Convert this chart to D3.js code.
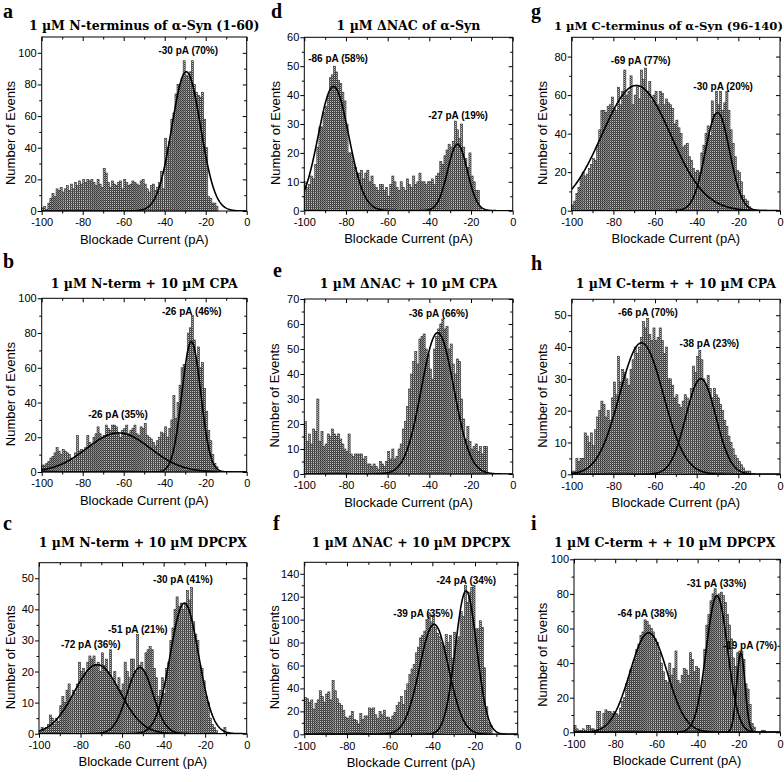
<!DOCTYPE html>
<html><head><meta charset="utf-8">
<script src="https://cdn.jsdelivr.net/npm/d3@7"></script>
<style>body{margin:0;background:#fff}</style>
</head><body>
<svg id="chart" width="784" height="782"></svg>
<script>
// ---------- DATA ----------
const binStart = -100;   // first bin left edge (pA)
const binWidth = 1;      // pA per bin
const xTickValues = [-100, -80, -60, -40, -20, 0];

const panelIds = ["a","b","c","d","e","f","g","h","i"];
const titles = {
  a: "1 µM N-terminus of α-Syn (1-60)",
  b: "1 µM N-term + 10 µM CPA",
  c: "1 µM N-term + 10 µM DPCPX",
  d: "1 µM ΔNAC of α-Syn",
  e: "1 µM ΔNAC + 10 µM CPA",
  f: "1 µM ΔNAC + 10 µM DPCPX",
  g: "1 µM C-terminus of α-Syn (96-140)",
  h: "1 µM C-term + + 10 µM CPA",
  i: "1 µM C-term + + 10 µM DPCPX"
};
const yMaxes = {a:110, b:100, c:55, d:60, e:70, f:150, g:90, h:55, i:100};
const ySteps = {a:20, b:20, c:10, d:10, e:10, f:20, g:20, h:10, i:20};

const countsA = [2,3,1,5,8,11,9,14,13,15, 12,14,16,13,17,14,18,16,19,17, 20,18,20,19,20,18,16,20,17,15,
  27,24,18,15,19,17,16,18,19,14, 20,18,16,17,19,18,17,16,19,20, 17,14,12,16,17,13,15,18,25,14,
  46,40,44,58,62,74,80,80,84,95, 86,85,88,95,80,75,73,72,75,58, 40,9,8,5,5,3];
const countsB = [4,4,5,6,8,9,11,14,12,10, 13,12,11,10,8,7,11,21,12,13, 12,14,21,17,15,20,22,26,22,20,
  21,27,25,24,27,27,26,22,20,24, 25,27,22,24,25,27,22,21,26,25, 28,21,20,19,17,15,18,20,23,22,
  26,20,25,30,44,31,40,50,60,62, 62,80,83,90,76,64,72,60,63,48, 35,24,18,10,5,3];
const countsC = [1,2,1,2,3,6,5,3,5,4, 9,12,10,14,16,11,14,13,16,23, 20,21,19,23,25,24,25,22,23,20,
  26,22,24,20,27,17,20,15,18,14, 16,23,20,18,24,24,20,32,22,23, 20,26,27,28,27,21,18,12,14,18,
  13,21,23,30,34,40,44,41,42,40, 42,46,43,47,36,32,30,22,21,17, 12,10,5,3,2,1,0,0,0,2];
const countsD = [10,8,9,12,11,16,22,29,29,34, 36,40,46,47,50,48,45,44,41,38, 30,20,20,17,15,13,13,14,11,13,
  14,10,12,9,8,7,9,9,7,8, 5,9,12,10,8,7,10,8,7,11, 9,8,12,9,10,13,10,10,9,10,
  10,11,9,12,13,17,16,19,21,23, 22,24,31,28,25,30,22,18,15,20, 12,10,7,7,1];
const countsE = [21,13,16,12,18,17,30,13,17,11, 12,16,15,18,16,15,16,14,12,10, 9,16,8,7,8,8,8,8,6,7,
  4,4,3,4,3,2,5,4,3,5, 9,6,10,6,7,10,12,18,21,27, 34,40,45,49,44,54,55,56,50,48,
  42,38,50,55,58,60,62,58,59,50, 52,44,40,46,45,30,22,14,19,13, 10,11,12,9,11,8,11,11];
const countsF = [32,31,28,30,22,27,30,38,33,28, 35,37,30,47,38,31,27,25,21,15, 14,16,20,13,12,9,18,13,16,16,
  23,22,23,17,14,20,17,21,15,15, 13,16,19,25,28,33,26,38,44,52, 57,61,71,76,84,86,90,100,106,98,
  104,93,88,85,80,77,87,80,86,66, 89,82,85,107,103,130,115,124,128,130, 92,92,99,93,58,24,10,8];
const countsG = [3,5,9,12,17,20,18,19,22,24, 27,26,34,42,52,52,51,54,55,59, 53,52,64,55,62,73,60,62,70,55,
  60,65,58,73,68,74,62,67,57,60, 62,55,62,61,55,58,56,55,53,45, 47,43,40,33,34,35,28,26,22,20,
  21,20,30,34,40,44,39,57,50,62, 55,62,52,56,62,52,42,35,28,21, 20,15,8,6,5,2];
const countsH = [1,1,5,4,5,5,13,12,10,13, 9,14,18,20,23,22,18,20,17,24, 29,25,37,29,33,32,30,28,33,36,
  40,38,40,43,48,46,49,44,42,46, 42,43,46,42,38,40,30,30,28,24, 25,22,21,23,25,24,22,27,34,32,
  37,39,36,30,28,31,27,24,27,25, 24,22,20,17,15,12,10,8,6,5, 4,3,2,1,1,1];
const countsI = [4,2,1,1,2,1,4,4,2,2, 1,12,12,3,11,13,12,12,11,12, 11,10,14,18,20,28,31,36,38,42,
  48,51,56,58,65,64,62,60,58,54, 52,46,40,35,30,29,40,33,37,47, 30,28,33,37,36,33,46,42,35,38,
  37,25,30,48,62,68,76,80,83,78, 80,81,79,75,68,62,54,43,38,46, 47,47,42,28,25,16,5,3,0,0, 0,1,1];

// Gaussian fit parameters (centre, width, height)
const fitsA = [{mu:-29.5, sigma:7, amp:88}];
const fitsB = [{mu:-62.5, sigma:15.5, amp:22.5}, {mu:-27, sigma:4.6, amp:75}];
const fitsC = [{mu:-72, sigma:11, amp:22.2}, {mu:-51.4, sigma:6.2, amp:21.3}, {mu:-30, sigma:6.8, amp:42}];
const fitsD = [{mu:-86, sigma:7.3, amp:43}, {mu:-26.5, sigma:4.7, amp:23}];
const fitsE = [{mu:-36, sigma:7.8, amp:56.5}];
const fitsF = [{mu:-39.2, sigma:6.8, amp:96}, {mu:-24.2, sigma:5, amp:125}];
const fitsG = [{mu:-69, sigma:16.5, amp:65}, {mu:-30, sigma:5.8, amp:51}];
const fitsH = [{mu:-66.5, sigma:10.5, amp:41.3}, {mu:-38, sigma:7.2, amp:30}];
const fitsI = [{mu:-63.8, sigma:9, amp:57.5}, {mu:-30.6, sigma:5.2, amp:79}, {mu:-19, sigma:2, amp:46}];

// Peak annotations (text, anchor in data units: pA, count)
const labelsA = [{t:"-30 pA (70%)", x:-28.5, y:99}];
const labelsB = [{t:"-26 pA (46%)", x:-26.8, y:90.4}, {t:"-26 pA (35%)", x:-62.8, y:30.9}];
const labelsC = [{t:"-30 pA (41%)", x:-30.7, y:48.6}, {t:"-51 pA (21%)", x:-52.4, y:32.5}, {t:"-72 pA (36%)", x:-75.1, y:27.5}];
const labelsD = [{t:"-86 pA (58%)", x:-83.8, y:51.3}, {t:"-27 pA (19%)", x:-26.2, y:31.7}];
const labelsE = [{t:"-36 pA (66%)", x:-35.6, y:62.7}];
const labelsF = [{t:"-24 pA (34%)", x:-24.1, y:130.8}, {t:"-39 pA (35%)", x:-44.3, y:101.9}];
const labelsG = [{t:"-69 pA (77%)", x:-66.9, y:76.2}, {t:"-30 pA (20%)", x:-27.3, y:62.8}];
const labelsH = [{t:"-66 pA (70%)", x:-63.4, y:49.6}, {t:"-38 pA (23%)", x:-33.9, y:39.9}];
const labelsI = [{t:"-64 pA (38%)", x:-64.4, y:66.5}, {t:"-31 pA (33%)", x:-30.8, y:84.2}, {t:"-19 pA (7%)", x:-14.6, y:48.2}];

const xTitle = "Blockade Current (pA)";
const yTitle = "Number of Events";

// ---------- LAYOUT (pixels) ----------
const layout = {
  a:{x0:41.7, x1:246.7, y0:37,    y1:211,   lx:3,   ly:18,  tb:29.5},
  b:{x0:41.7, x1:246.7, y0:298.3, y1:472,   lx:3,   ly:268, tb:288},
  c:{x0:39,   x1:246.7, y0:562.7, y1:733.7, lx:3,   ly:530, tb:547},
  d:{x0:304.3,x1:512.7, y0:37.3,  y1:210.7, lx:271, ly:18,  tb:29.5},
  e:{x0:304.3,x1:512.7, y0:299,   y1:474,   lx:273, ly:277, tb:288},
  f:{x0:304.3,x1:517.7, y0:562.3, y1:734.3, lx:273, ly:530, tb:547},
  g:{x0:571.7,x1:780,   y0:37.3,  y1:210.7, lx:531, ly:18,  tb:29.5},
  h:{x0:571.7,x1:780,   y0:299.3, y1:474.3, lx:531, ly:270, tb:288},
  i:{x0:574,  x1:780,   y0:559.3, y1:732.3, lx:531, ly:530, tb:547}
};
const yTitleX = {a:10, b:10, c:10, d:275, e:274, f:274, g:542, h:542, i:542};

const countsBy = {a:countsA,b:countsB,c:countsC,d:countsD,e:countsE,f:countsF,g:countsG,h:countsH,i:countsI};
const fitsBy = {a:fitsA,b:fitsB,c:fitsC,d:fitsD,e:fitsE,f:fitsF,g:fitsG,h:fitsH,i:fitsI};
const labelsBy = {a:labelsA,b:labelsB,c:labelsC,d:labelsD,e:labelsE,f:labelsF,g:labelsG,h:labelsH,i:labelsI};

const SANS = "'Liberation Sans', Arial, sans-serif";
const SERIF_T = "'DejaVu Serif', serif";
const SERIF_L = "'Liberation Serif', 'Times New Roman', serif";

const svg = d3.select("#chart");
const defs = svg.append("defs");
const pat = defs.append("pattern").attr("id","barfill").attr("patternUnits","userSpaceOnUse")
  .attr("width",2).attr("height",2);
pat.append("rect").attr("width",2).attr("height",2).attr("fill","#c4c4c4");
pat.append("rect").attr("width",1).attr("height",1).attr("fill","#3c3c3c");
pat.append("rect").attr("x",1).attr("y",1).attr("width",1).attr("height",1).attr("fill","#5a5a5a");

panelIds.forEach(id => {
  const L = layout[id];
  const counts = countsBy[id];
  const yMax = yMaxes[id], yStep = ySteps[id];
  const x = d3.scaleLinear().domain([-100, 0]).range([L.x0, L.x1]);
  const y = d3.scaleLinear().domain([0, yMax]).range([L.y1, L.y0]);
  const g = svg.append("g");

  defs.append("clipPath").attr("id","clip-"+id).append("rect")
    .attr("x",L.x0).attr("y",L.y0).attr("width",L.x1-L.x0).attr("height",L.y1-L.y0);

  // bars
  g.append("g").selectAll("rect").data(counts).join("rect")
    .attr("x",(d,i)=>x(binStart+i*binWidth))
    .attr("width",(d,i)=>x(binStart+(i+1)*binWidth)-x(binStart+i*binWidth))
    .attr("y",d=>y(d))
    .attr("height",d=>y(0)-y(d))
    .attr("fill","url(#barfill)")
    .attr("stroke","#2a2a2a").attr("stroke-width",0.6);

  // fitted curves
  const xs = d3.range(-100, 0.001, 0.25);
  const line = d3.line().x(d=>x(d[0])).y(d=>y(d[1]));
  fitsBy[id].forEach(f => {
    const pts = xs.map(v => [v, f.amp*Math.exp(-((v-f.mu)**2)/(2*f.sigma*f.sigma))]);
    g.append("path").datum(pts).attr("d",line).attr("fill","none")
      .attr("stroke","#000").attr("stroke-width",1.6)
      .attr("clip-path","url(#clip-"+id+")");
  });

  // axes
  const yMaj = d3.range(0, yMax+0.001, yStep).filter(v=>v<=yMax);
  const yMin = d3.range(yStep/2, yMax+0.001, yStep).filter(v=>v<yMax);
  const xMin = d3.range(-90, 0, 20);
  const styleAxis = sel => { sel.select(".domain").remove(); sel.selectAll("line").attr("stroke","#000").attr("stroke-width",1);
     sel.selectAll("text").attr("font-family",SANS).attr("font-size",11).attr("fill","#000"); };

  g.append("g").attr("transform",`translate(0,${L.y1})`)
    .call(d3.axisBottom(x).tickValues(xTickValues).tickSize(4).tickPadding(3.5).tickFormat(d=>String(d))).call(styleAxis);
  g.append("g").attr("transform",`translate(0,${L.y1})`)
    .call(d3.axisBottom(x).tickValues(xMin).tickSize(2.5).tickFormat("")).call(styleAxis);
  g.append("g").attr("transform",`translate(${L.x0},0)`)
    .call(d3.axisLeft(y).tickValues(yMaj).tickSize(4).tickPadding(1).tickFormat(d=>String(d))).call(styleAxis);
  g.append("g").attr("transform",`translate(${L.x0},0)`)
    .call(d3.axisLeft(y).tickValues(yMin).tickSize(2.5).tickFormat("")).call(styleAxis);
  // mirror ticks (inward) on top & right
  g.append("g").attr("transform",`translate(0,${L.y0})`)
    .call(d3.axisTop(x).tickValues(xTickValues).tickSize(-4).tickFormat("")).call(styleAxis);
  g.append("g").attr("transform",`translate(0,${L.y0})`)
    .call(d3.axisTop(x).tickValues(xMin).tickSize(-2.5).tickFormat("")).call(styleAxis);
  g.append("g").attr("transform",`translate(${L.x1},0)`)
    .call(d3.axisRight(y).tickValues(yMaj).tickSize(-4).tickFormat("")).call(styleAxis);
  g.append("g").attr("transform",`translate(${L.x1},0)`)
    .call(d3.axisRight(y).tickValues(yMin).tickSize(-2.5).tickFormat("")).call(styleAxis);

  // frame
  g.append("rect").attr("x",L.x0).attr("y",L.y0).attr("width",L.x1-L.x0).attr("height",L.y1-L.y0)
    .attr("fill","none").attr("stroke","#000").attr("stroke-width",1);

  // annotations
  labelsBy[id].forEach(lb => {
    g.append("text").attr("x",x(lb.x)).attr("y",y(lb.y)).attr("text-anchor","middle")
      .attr("font-family",SANS).attr("font-size",10).attr("font-weight","bold").text(lb.t);
  });

  // axis titles
  g.append("text").attr("x",(L.x0+L.x1)/2).attr("y",L.y1+32.5).attr("text-anchor","middle")
    .attr("font-family",SANS).attr("font-size",13).text(xTitle);
  g.append("text").attr("transform",`translate(${yTitleX[id]+4.5},${(L.y0+L.y1)/2+9}) rotate(-90)`)
    .attr("text-anchor","middle").attr("font-family",SANS).attr("font-size",13).text(yTitle);

  // panel title (shrunk if needed to stay inside the canvas, clear of the letter) and letter
  const cx = (L.x0+L.x1)/2;
  const tt = g.append("text").attr("x",cx).attr("y",L.tb).attr("text-anchor","middle")
    .attr("font-family",SERIF_T).attr("font-weight","bold").attr("font-size",12.5).text(titles[id]);
  const w = tt.node().getComputedTextLength();
  if (cx + w/2 > 783) {
    const avail = 783 - 554;
    tt.attr("font-size", 12.5*Math.min(1, avail/w)).attr("text-anchor","start").attr("x", 554);
  }
  g.append("text").attr("x",L.lx).attr("y",L.ly).attr("font-family",SERIF_L).attr("font-weight","bold")
    .attr("font-size",20).text(id);
});
</script>
</body></html>
